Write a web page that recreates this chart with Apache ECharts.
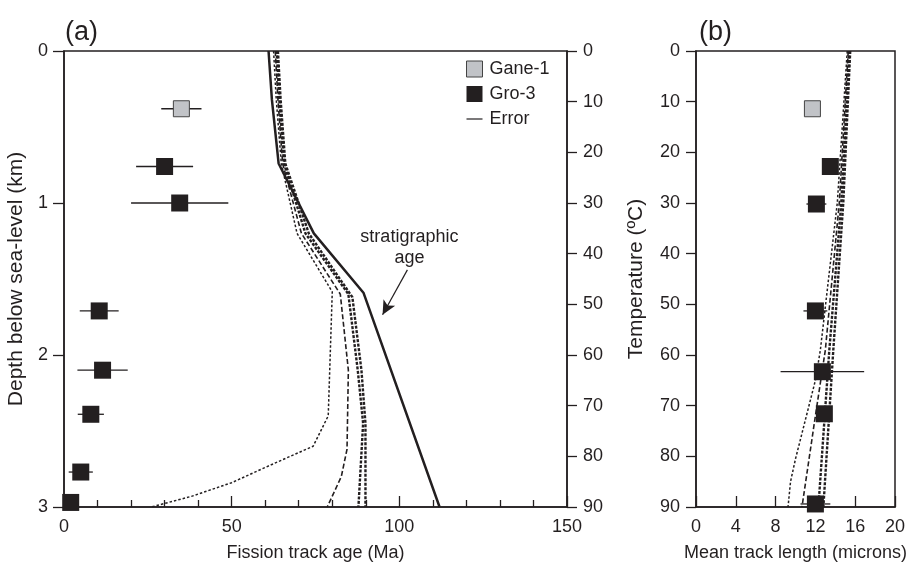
<!DOCTYPE html>
<html>
<head>
<meta charset="utf-8">
<script src="https://cdn.jsdelivr.net/npm/echarts@6/dist/echarts.min.js"></script>
<style>
  html, body { margin: 0; padding: 0; background: #fff; }
  #chart { width: 909px; height: 566px; }
</style>
</head>
<body>
<div id="chart"></div>
<script>
// panel (a): fission track age vs depth
const ganeAge = [35]
const ganeDepth = [0.38]
const ganeAgeErr = [6]

const groAge = [30, 34.5, 10.5, 11.5, 8, 5, 2]
const groDepth = [0.76, 1.0, 1.71, 2.1, 2.39, 2.77, 2.97]
const groAgeErr = [8.5, 14.5, 5.8, 7.5, 3.9, 3.6, 0]

// [age, depth]
const stratLine = [[61, 0], [62, 0.32], [64, 0.74], [74.5, 1.2], [89.3, 1.59], [112, 3]]
const ageModelA = [[62.5, 0], [63.3, 0.32], [64.8, 0.74], [69.5, 1.2], [80, 1.585], [78.8, 2.4], [74.3, 2.6], [62, 2.72], [50, 2.84], [38, 2.93], [26, 3]]
const ageModelB = [[63, 0], [63.8, 0.32], [65.2, 0.74], [70.8, 1.2], [82.4, 1.6], [84.8, 2.1], [84.4, 2.62], [82.7, 2.8], [78.5, 3]]
const ageModelC = [[63.4, 0], [64.2, 0.32], [65.6, 0.74], [72, 1.2], [84.8, 1.6], [87.6, 2.1], [89.2, 2.45], [87.8, 3]]
const ageModelD = [[63.8, 0], [64.6, 0.32], [66, 0.74], [73, 1.2], [86, 1.62], [88.7, 2.1], [89.9, 2.45], [89.9, 3]]

// panel (b): mean track length vs temperature
const ganeLen = [11.7]
const ganeTemp = [11.4]

const groLen = [13.5, 12.1, 12.0, 12.7, 12.9, 12.0]
const groTemp = [22.8, 30.2, 51.3, 63.3, 71.6, 89.4]
const groLenErr = [0, 1.0, 1.2, 4.2, 0, 1.5]

// [length, temperature]
const lenModelA = [[15.2, 0], [14.2, 30], [12.5, 59], [12.0, 65], [10.0, 80.5], [9.5, 85], [9.25, 90]]
const lenModelB = [[15.3, 0], [14.4, 30], [13.0, 59], [12.0, 72], [10.65, 90]]
const lenModelC = [[15.4, 0], [14.6, 30], [13.4, 59], [12.3, 90]]
const lenModelD = [[15.5, 0], [14.8, 30], [13.8, 59], [12.8, 90]]

const INK = '#231f20'
const GREY = '#c1c3c7'
const FONT = 'Liberation Sans'

const zip = (xs, ys, es) => xs.map((x, i) => es ? [x, ys[i], es[i]] : [x, ys[i]])

function errorBar (params, api) {
  const e = api.value(2)
  if (!e) return
  const p1 = api.coord([api.value(0) - e, api.value(1)])
  const p2 = api.coord([api.value(0) + e, api.value(1)])
  return {
    type: 'line',
    shape: { x1: p1[0], y1: p1[1], x2: p2[0], y2: p2[1] },
    style: { stroke: INK, lineWidth: 1.3 }
  }
}

const axisText = { fontSize: 18, color: INK, fontFamily: FONT }
const yNameText = { fontSize: 21, color: INK, fontFamily: FONT }
const axisLine = { show: true, onZero: false, lineStyle: { color: INK, width: 1.5 } }

function modelLine (data, kind, xi) {
  const styles = {
    fine: { width: 1.5, type: [2.5, 2] },
    long: { width: 1.6, type: [5, 2.5] },
    heavy: { width: 2.4, type: [3, 1.5] },
    solid: { width: 2.5, type: 'solid' }
  }
  return {
    type: 'line',
    xAxisIndex: xi,
    yAxisIndex: xi === 0 ? 0 : 2,
    data: data,
    showSymbol: false,
    silent: true,
    lineStyle: Object.assign({ color: INK }, styles[kind]),
    z: 2
  }
}

const chart = echarts.init(document.getElementById('chart'))
chart.setOption({
  animation: false,
  textStyle: { fontFamily: FONT, color: INK },
  title: [
    { text: '(a)', left: 60, top: 14, textStyle: { fontSize: 27, fontWeight: 'normal', color: INK, fontFamily: FONT } },
    { text: '(b)', left: 694, top: 14, textStyle: { fontSize: 27, fontWeight: 'normal', color: INK, fontFamily: FONT } }
  ],
  legend: {
    orient: 'vertical',
    left: 466,
    top: 60,
    padding: 0,
    itemWidth: 16,
    itemHeight: 16,
    itemGap: 7,
    selectedMode: false,
    textStyle: { fontSize: 18, color: INK, fontFamily: FONT, lineHeight: 16, padding: [0, 0, 0, 2] },
    data: [
      { name: 'Gane-1', icon: 'rect', itemStyle: { color: GREY, borderColor: '#444', borderWidth: 1 } },
      { name: 'Gro-3', icon: 'rect', itemStyle: { color: INK, borderWidth: 0 } },
      { name: 'Error', icon: 'path://M0,0M16,16M0,7.4H16V8.6H0Z', itemStyle: { color: INK, borderWidth: 0 } }
    ]
  },
  grid: [
    { left: 64, top: 51, width: 503, height: 456, outerBoundsMode: 'none', show: true, borderColor: INK, borderWidth: 1.5 },
    { left: 696, top: 51, width: 199, height: 456, outerBoundsMode: 'none', show: true, borderColor: INK, borderWidth: 1.5 }
  ],
  xAxis: [
    {
      gridIndex: 0, type: 'value', position: 'bottom', min: 0, max: 150, interval: 50,
      axisLine: axisLine,
      axisTick: { inside: true, length: 11, lineStyle: { color: INK, width: 1.3 } },
      minorTick: { show: true, splitNumber: 5, length: 7, lineStyle: { color: INK, width: 1.3 } },
      axisLabel: Object.assign({ margin: 11 }, axisText),
      splitLine: { show: false },
      name: 'Fission track age (Ma)', nameLocation: 'middle', nameGap: 37, nameTextStyle: axisText
    },
    {
      gridIndex: 1, type: 'value', position: 'bottom', min: 0, max: 20, interval: 4,
      axisLine: axisLine,
      axisTick: { inside: true, length: 11, lineStyle: { color: INK, width: 1.3 } },
      axisLabel: Object.assign({ margin: 11 }, axisText),
      splitLine: { show: false },
      name: 'Mean track length (microns)', nameLocation: 'middle', nameGap: 37, nameTextStyle: axisText
    }
  ],
  yAxis: [
    {
      gridIndex: 0, type: 'value', min: 0, max: 3, interval: 1, inverse: true,
      axisLine: axisLine,
      axisTick: { length: 11, lineStyle: { color: INK, width: 1.3 } },
      axisLabel: Object.assign({ margin: 16 }, axisText),
      splitLine: { show: false },
      name: 'Depth below sea-level (km)', nameLocation: 'middle', nameGap: 34, nameTextStyle: yNameText
    },
    {
      gridIndex: 0, type: 'value', position: 'right', min: 0, max: 90, interval: 10, inverse: true,
      axisLine: axisLine,
      axisTick: { length: 10, lineStyle: { color: INK, width: 1.3 } },
      axisLabel: Object.assign({ margin: 16 }, axisText),
      splitLine: { show: false }
    },
    {
      gridIndex: 1, type: 'value', min: 0, max: 90, interval: 10, inverse: true,
      axisLine: axisLine,
      axisTick: { length: 10, lineStyle: { color: INK, width: 1.3 } },
      axisLabel: Object.assign({ margin: 16 }, axisText),
      splitLine: { show: false },
      name: 'Temperature (ºC)', nameLocation: 'middle', nameGap: 49, nameTextStyle: yNameText
    }
  ],
  series: [
    // panel (a)
    modelLine(ageModelA, 'fine', 0),
    modelLine(ageModelB, 'long', 0),
    modelLine(ageModelC, 'heavy', 0),
    modelLine(ageModelD, 'heavy', 0),
    Object.assign(modelLine(stratLine, 'solid', 0), {
      markPoint: {
        symbol: 'circle',
        symbolSize: 1,
        itemStyle: { color: 'transparent' },
        label: {
          show: true, position: 'inside', formatter: 'stratigraphic\nage',
          fontSize: 18, lineHeight: 21, color: INK, fontFamily: FONT
        },
        data: [{ coord: [103, 1.29] }]
      },
      markLine: {
        silent: true,
        symbol: ['none', 'arrow'],
        symbolSize: [10, 14],
        label: { show: false },
        lineStyle: { color: INK, width: 1.2, type: 'solid' },
        data: [[{ coord: [102.4, 1.44] }, { coord: [95, 1.735] }]]
      }
    }),
    {
      name: 'Error', type: 'custom', xAxisIndex: 0, yAxisIndex: 0,
      renderItem: errorBar, data: zip(ganeAge, ganeDepth, ganeAgeErr).concat(zip(groAge, groDepth, groAgeErr)),
      encode: { x: 0, y: 1 }, itemStyle: { color: INK }, z: 3, silent: true
    },
    {
      name: 'Gane-1', type: 'scatter', xAxisIndex: 0, yAxisIndex: 0,
      symbol: 'rect', symbolSize: 16, data: zip(ganeAge, ganeDepth),
      itemStyle: { color: GREY, borderColor: '#444', borderWidth: 1, opacity: 1 }, z: 4, silent: true
    },
    {
      name: 'Gro-3', type: 'scatter', xAxisIndex: 0, yAxisIndex: 0,
      symbol: 'rect', symbolSize: 17, data: zip(groAge, groDepth),
      itemStyle: { color: INK, opacity: 1 }, z: 4, silent: true
    },
    // panel (b)
    modelLine(lenModelA, 'fine', 1),
    modelLine(lenModelB, 'long', 1),
    modelLine(lenModelC, 'heavy', 1),
    modelLine(lenModelD, 'heavy', 1),
    {
      type: 'custom', xAxisIndex: 1, yAxisIndex: 2,
      renderItem: errorBar, data: zip(groLen, groTemp, groLenErr),
      encode: { x: 0, y: 1 }, z: 3, silent: true
    },
    {
      name: 'Gane-1', type: 'scatter', xAxisIndex: 1, yAxisIndex: 2,
      symbol: 'rect', symbolSize: 16, data: zip(ganeLen, ganeTemp),
      itemStyle: { color: GREY, borderColor: '#444', borderWidth: 1, opacity: 1 }, z: 4, silent: true
    },
    {
      name: 'Gro-3', type: 'scatter', xAxisIndex: 1, yAxisIndex: 2,
      symbol: 'rect', symbolSize: 17, data: zip(groLen, groTemp),
      itemStyle: { color: INK, opacity: 1 }, z: 4, silent: true
    }
  ]
})
</script>
</body>
</html>
